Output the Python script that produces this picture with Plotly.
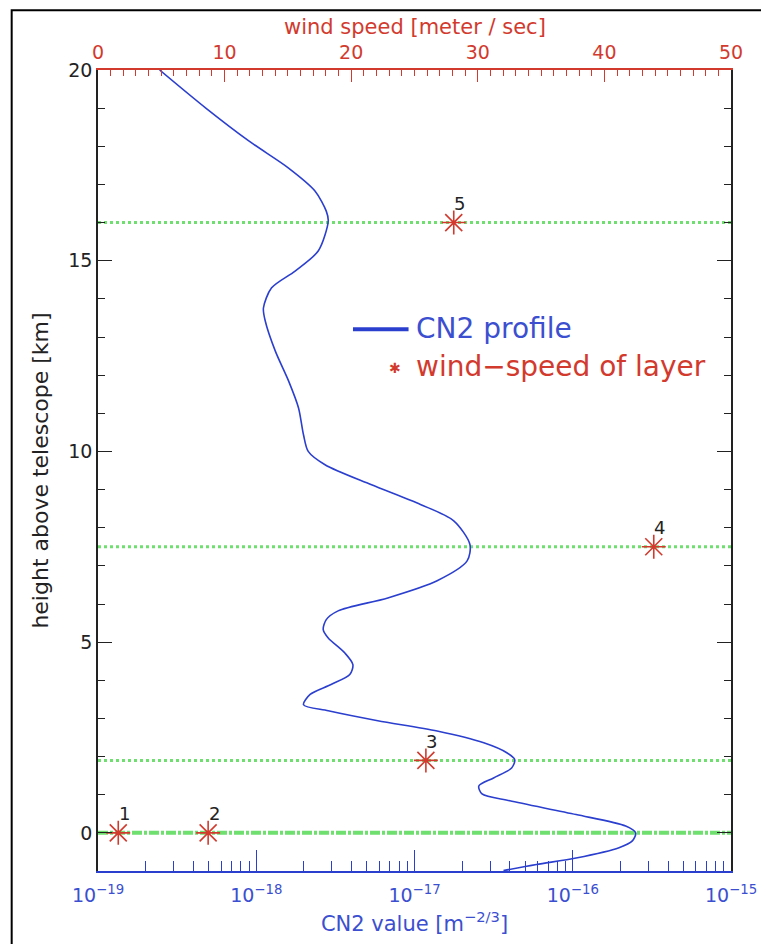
import plotly.graph_objects as go

# ---------------- data ----------------
# CN2 profile (height above telescope [km] vs CN2 value [m^-2/3])
profile_height = [20.0, 19.0, 18.14, 17.43, 16.83, 16.30, 16.04, 15.26, 14.73, 14.29,
                  13.76, 13.42, 12.63, 11.85, 11.14, 10.43, 10.0, 9.65, 9.13, 8.61,
                  8.18, 7.56, 7.13, 6.61, 6.16, 5.82, 5.59, 5.33, 5.11, 4.72,
                  4.41, 4.15, 3.89, 3.63, 3.36, 3.20, 2.94, 2.67, 2.36, 2.10,
                  1.92, 1.70, 1.44, 1.23, 1.02, 0.84, 0.48, 0.18, 0.0, -0.21,
                  -0.39, -0.66, -0.83, -0.99]
profile_cn2 = [2.45e-19, 4.80e-19, 8.97e-19, 1.60e-18, 2.35e-18, 2.77e-18, 2.85e-18, 2.47e-18, 1.76e-18, 1.25e-18,
               1.11e-18, 1.14e-18, 1.32e-18, 1.60e-18, 1.85e-18, 1.99e-18, 2.13e-18, 2.72e-18, 5.30e-18, 1.09e-17,
               1.77e-17, 2.24e-17, 2.15e-17, 1.39e-17, 6.78e-18, 3.29e-18, 2.77e-18, 2.65e-18, 2.85e-18, 3.62e-18,
               4.08e-18, 3.90e-18, 2.97e-18, 2.19e-18, 1.99e-18, 2.85e-18, 5.86e-18, 1.39e-17, 2.74e-17, 3.83e-17,
               4.30e-17, 4.11e-17, 3.16e-17, 2.55e-17, 2.67e-17, 4.00e-17, 1.05e-16, 2.16e-16, 2.50e-16, 2.38e-16,
               1.96e-16, 1.05e-16, 5.90e-17, 3.65e-17]

# turbulent layers: height [km] and wind speed [m/s]
layer_ids = ["1", "2", "3", "4", "5"]
layer_height = [0.0, 0.0, 1.9, 7.5, 16.0]
layer_wind = [1.6, 8.7, 25.9, 43.9, 28.1]

# axis ticks
height_ticks = [0, 5, 10, 15, 20]
cn2_ticks = [1e-19, 1e-18, 1e-17, 1e-16, 1e-15]
cn2_ticktext = ["10<sup>−19</sup>", "10<sup>−18</sup>", "10<sup>−17</sup>",
                "10<sup>−16</sup>", "10<sup>−15</sup>"]
wind_ticks = [0, 10, 20, 30, 40, 50]

# ---------------- style ----------------
FONT = "DejaVu Sans"
BLUE = "#2b3fcf"
BLUE_TXT = "#3b4fd0"
RED = "#d23a2e"
GREEN = "#6fe06f"
BLACK = "#222222"

OFF = 8  # default page body margin
W, H = 769 - OFF, 944 - OFF
ML, MR, MT, MB = 98 - OFF, 33, 70 - OFF, 71
PW, PH = W - ML - MR, H - MT - MB


def px(xp):
    return (xp - OFF - ML) / PW


def py(yp):
    return (H - MB - (yp - OFF)) / PH


fig = go.Figure()

fig.add_trace(go.Scatter(
    x=profile_cn2, y=profile_height, mode="lines",
    line=dict(color=BLUE, width=1.6, shape="spline", smoothing=0.8),
    xaxis="x", yaxis="y", showlegend=False, hoverinfo="skip"))

fig.add_trace(go.Scatter(
    x=layer_wind, y=layer_height, mode="markers",
    marker=dict(symbol="asterisk-open", size=20,
                line=dict(color=RED, width=1.6), color=RED),
    xaxis="x2", yaxis="y", showlegend=False, hoverinfo="skip"))

shapes = []
for h in sorted(set(layer_height)):
    n = layer_height.count(h)
    if n > 1:
        dash, width = "10px,2px,3px,2px", 4
    else:
        dash, width = "3px,3px", 3
    shapes.append(dict(type="line", xref="paper", yref="y", x0=0, x1=1, y0=h, y1=h,
                       line=dict(color=GREEN, width=width, dash=dash), layer="below"))

# legend line
shapes.append(dict(type="line", xref="paper", yref="paper",
                   x0=px(355), x1=px(411), y0=py(330), y1=py(330),
                   line=dict(color=BLUE, width=4)))
# outer frame
shapes.append(dict(type="rect", xref="paper", yref="paper",
                   x0=px(11), x1=px(790), y0=py(10), y1=py(980),
                   line=dict(color="black", width=2)))

annotations = []
for lid, h, w in zip(layer_ids, layer_height, layer_wind):
    annotations.append(dict(x=w, y=h, xref="x2", yref="y", text=lid, showarrow=False,
                            xshift=6, yshift=19, font=dict(family=FONT, size=18, color=BLACK)))

annotations += [
    dict(x=px(416), y=py(329), xref="paper", yref="paper", text="CN2 profile",
         showarrow=False, xanchor="left", yanchor="middle",
         font=dict(family=FONT, size=28, color=BLUE_TXT)),
    dict(x=px(416), y=py(367), xref="paper", yref="paper", text="wind−speed of layer",
         showarrow=False, xanchor="left", yanchor="middle",
         font=dict(family=FONT, size=28, color=RED)),
    dict(x=px(397), y=py(369), xref="paper", yref="paper", text="✱",
         showarrow=False, xanchor="center", yanchor="middle",
         font=dict(family=FONT, size=14, color=RED)),
    # top axis title
    dict(x=px(417), y=py(27), xref="paper", yref="paper", text="wind speed [meter / sec]",
         showarrow=False, xanchor="center", yanchor="middle",
         font=dict(family=FONT, size=21, color=RED)),
]

fig.update_layout(
    width=W, height=H,
    margin=dict(l=ML, r=MR, t=MT, b=MB, pad=0),
    paper_bgcolor="white", plot_bgcolor="white",
    showlegend=False,
    shapes=shapes, annotations=annotations,
    xaxis=dict(
        type="log", range=[-19, -15], tickmode="array",
        tickvals=cn2_ticks, ticktext=cn2_ticktext,
        ticks="inside", ticklen=21, tickwidth=1, tickcolor=BLUE,
        minor=dict(ticks="inside", ticklen=10, tickcolor=BLUE, tickmode="array",
                   tickvals=[k * 10.0 ** e for e in range(-19, -15) for k in range(2, 10)]),
        showline=True, linecolor=BLUE, linewidth=1.5,
        showgrid=False, zeroline=False,
        ticklabelstandoff=6,
        tickfont=dict(family=FONT, size=19, color=BLUE_TXT),
        title=dict(text="CN2 value [m<sup>−2/3</sup>]", standoff=12,
                   font=dict(family=FONT, size=21, color=BLUE_TXT)),
        anchor="y", side="bottom"),
    xaxis2=dict(
        range=[0, 50], tickmode="array", tickvals=wind_ticks,
        ticks="inside", ticklen=12, tickcolor=RED,
        minor=dict(ticks="inside", ticklen=6, dtick=1, tickcolor=RED),
        showline=True, linecolor=RED, linewidth=1.5,
        showgrid=False, zeroline=False,
        ticklabelstandoff=2,
        tickfont=dict(family=FONT, size=19, color=RED),
        overlaying="x", side="top", anchor="y"),
    yaxis=dict(
        range=[-1, 20], tickmode="array", tickvals=height_ticks,
        ticks="inside", ticklen=14, tickcolor=BLACK,
        minor=dict(ticks="inside", ticklen=7, dtick=1, tickcolor=BLACK),
        showline=True, linecolor=BLACK, linewidth=1.5, mirror="ticks",
        showgrid=False, zeroline=False,
        tickfont=dict(family=FONT, size=19, color=BLACK),
        title=dict(text="height above telescope [km]", standoff=14,
                   font=dict(family=FONT, size=22, color=BLACK)),
        anchor="x"),
)

fig.write_html("out.html")
